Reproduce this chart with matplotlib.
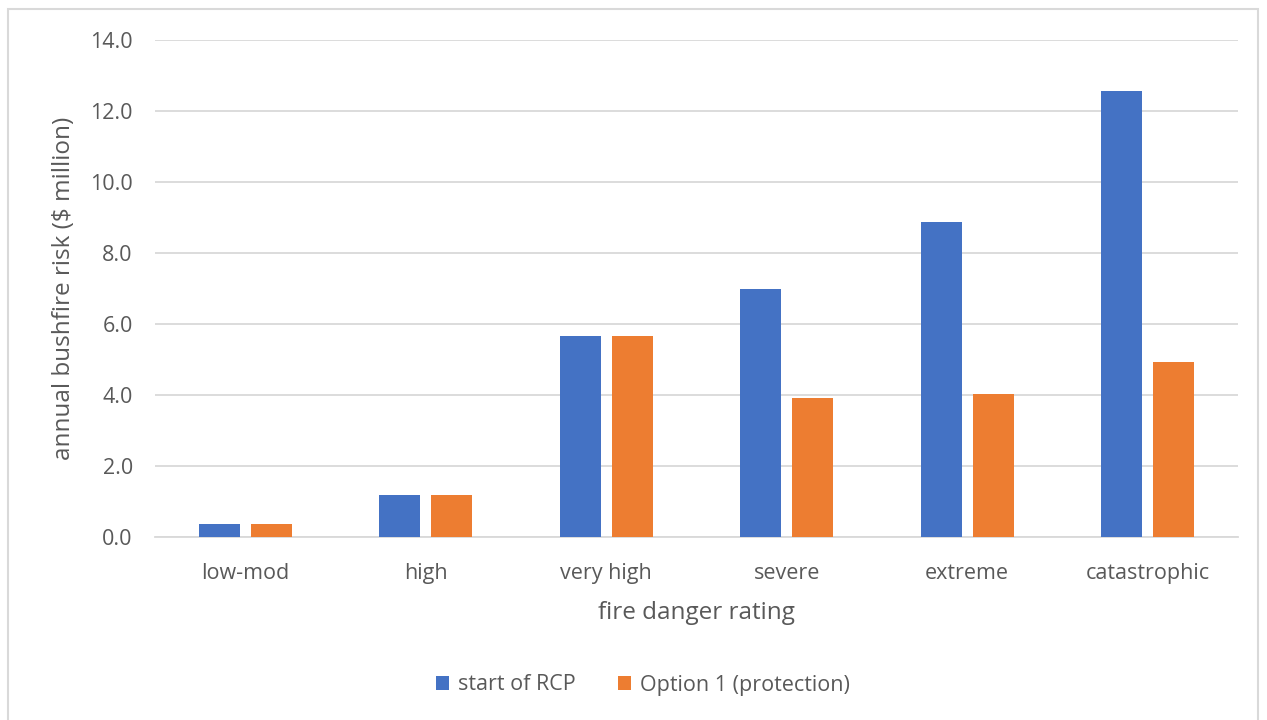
import numpy as np
import matplotlib.pyplot as plt
from matplotlib.patches import Rectangle

categories = ['low-mod', 'high', 'very high', 'severe', 'extreme', 'catastrophic']
start_rcp = [0.38, 1.17, 5.65, 6.98, 8.86, 12.57]
option1 = [0.38, 1.17, 5.65, 3.91, 4.02, 4.93]
series_names = ['start of RCP', 'Option 1 (protection)']
yticks = [0, 2, 4, 6, 8, 10, 12, 14]

plt.rcParams['font.family'] = ['Open Sans', 'DejaVu Sans']
txt = '#595959'

fig = plt.figure(figsize=(12.67, 7.2), dpi=100)
fig.patches.append(Rectangle((8 / 1267, -0.05), 1250 / 1267, 1.05 - 9 / 720,
                             transform=fig.transFigure, fill=False,
                             edgecolor='#d9d9d9', linewidth=1.5))
ax = fig.add_axes([155 / 1267, 1 - 537 / 720, 1083 / 1267, 497 / 720])

x = np.arange(len(categories))
w = 0.227
ax.bar(x - 0.143, start_rcp, w, color='#4472c4', label=series_names[0], zorder=3)
ax.bar(x + 0.143, option1, w, color='#ed7d31', label=series_names[1], zorder=3)

ax.set_xlim(-0.5, len(categories) - 0.5)
ax.set_ylim(0, 14)
ax.set_yticks(yticks)
ax.set_yticklabels([f'{v:.1f}' for v in yticks])
ax.set_xticks(x)
ax.set_xticklabels(categories)
ax.tick_params(axis='both', length=0, labelsize=15.5, colors=txt)
ax.tick_params(axis='x', pad=19)
ax.tick_params(axis='y', pad=16)
ax.grid(axis='y', color='#d9d9d9', linewidth=1.3, zorder=0)
for s in ['top', 'right', 'left']:
    ax.spines[s].set_visible(False)
ax.spines['bottom'].set_color('#d9d9d9')
ax.spines['bottom'].set_linewidth(1.3)

ax.set_xlabel('fire danger rating', fontsize=17.5, color=txt, labelpad=12)
ax.set_ylabel('annual bushfire risk ($ million)', fontsize=17.5, color=txt, labelpad=10)

fig.legend(loc='center', bbox_to_anchor=(643 / 1267, 1 - 685 / 720), ncol=2,
           frameon=False, fontsize=15.5, labelcolor=txt, handlelength=0.6,
           handleheight=0.6, handletextpad=0.4, columnspacing=2.0)

fig.savefig('out.png', dpi=100)
